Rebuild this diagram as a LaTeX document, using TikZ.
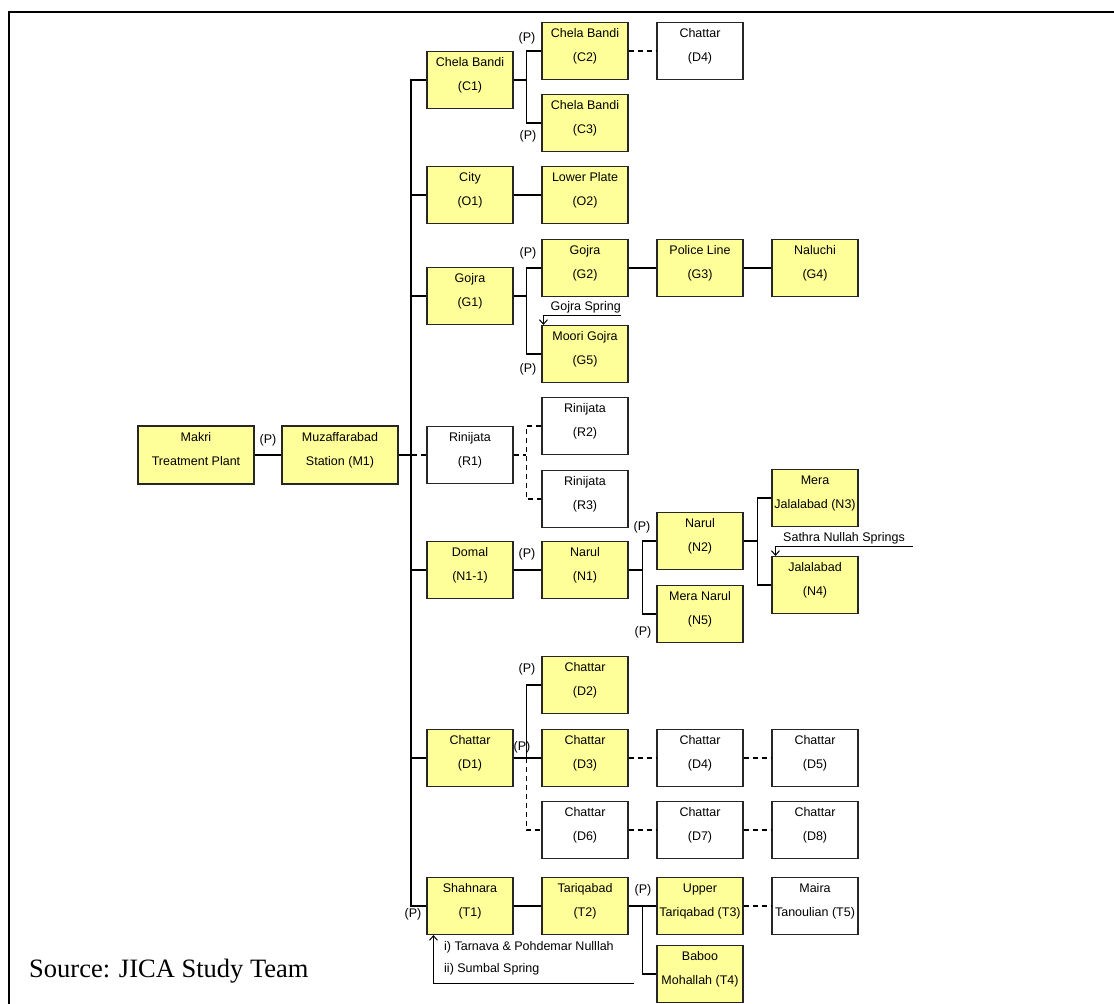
\documentclass[tikz,border=0pt]{standalone}
\usepackage{fontspec}
\setmainfont{Liberation Sans}
\newfontfamily\srcfont{Liberation Serif}
\usetikzlibrary{arrows.meta}
\definecolor{stnyellow}{RGB}{255,255,153}
\tikzset{
  stn/.style={draw=black!85, line width=1.1pt, fill=stnyellow, minimum width=86pt, minimum height=57pt,
    inner sep=2pt, align=center, font=\fontsize{12.5}{24}\selectfont, text depth=12pt},
  plan/.style={stn, fill=white},
  pipe/.style={line width=1.2pt},
  feed/.style={line width=2pt},
  planline/.style={line width=1.2pt, dash pattern=on 5pt off 4pt},
  plbl/.style={font=\fontsize{12.5}{22}\selectfont, inner sep=0pt},
}
\begin{document}
\begin{tikzpicture}[x=1pt, y=-1pt, node distance=115pt, >={Straight Barb[length=4.5pt,width=8pt]}]
      \useasboundingbox (0,0) rectangle (1114,1004);
      \draw[line width=2.5pt] (9,1004) -- (9,12) -- (1114,12);

      % source and main line
      \node[stn, minimum width=116pt, minimum height=58pt] (mk) at (196,455) {Makri\\Treatment Plant};
      \node[stn, minimum width=116pt, minimum height=58pt] (m1) at (340,455) {Muzaffarabad\\Station (M1)};

      % first column
      \node[stn] (c1) at (470,80) {Chela Bandi\\(C1)};
      \node[stn] (o1) at (470,195) {City\\(O1)};
      \node[stn] (g1) at (470,296) {Gojra\\(G1)};
      \node[plan] (r1) at (470,455) {Rinijata\\(R1)};
      \node[stn] (n11) at (470,570) {Domal\\(N1-1)};
      \node[stn] (d1) at (470,758) {Chattar\\(D1)};
      \node[stn] (t1) at (470,906) {Shahnara\\(T1)};

      % Chela Bandi
      \node[stn] (c2) at (585,51) {Chela Bandi\\(C2)};
      \node[stn] (c3) at (585,123) {Chela Bandi\\(C3)};
      \node[plan] (cd4) [right of = c2] {Chattar\\(D4)};
      % City
      \node[stn] (o2) [right of = o1] {Lower Plate\\(O2)};
      % Gojra
      \node[stn] (g2) at (585,268) {Gojra\\(G2)};
      \node[stn] (g3) [right of = g2] {Police Line\\(G3)};
      \node[stn] (g4) [right of = g3] {Naluchi\\(G4)};
      \node[stn] (g5) at (585,354) {Moori Gojra\\(G5)};
      % Rinijata
      \node[plan] (r2) at (585,426) {Rinijata\\(R2)};
      \node[plan] (r3) at (585,499) {Rinijata\\(R3)};
      % Domal / Narul
      \node[stn] (n1) [right of = n11] {Narul\\(N1)};
      \node[stn] (n2) at (700,541) {Narul\\(N2)};
      \node[stn] (n5) at (700,614) {Mera Narul\\(N5)};
      \node[stn] (n3) at (815,498) {Mera\\Jalalabad (N3)};
      \node[stn] (n4) at (815,585) {Jalalabad\\(N4)};
      % Chattar
      \node[stn] (d2) at (585,685) {Chattar\\(D2)};
      \node[stn] (d3) [right of = d1] {Chattar\\(D3)};
      \node[plan] (d4) [right of = d3] {Chattar\\(D4)};
      \node[plan] (d5) [right of = d4] {Chattar\\(D5)};
      \node[plan] (d6) at (585,830) {Chattar\\(D6)};
      \node[plan] (d7) [right of = d6] {Chattar\\(D7)};
      \node[plan] (d8) [right of = d7] {Chattar\\(D8)};
      % Shahnara / Tariqabad
      \node[stn] (t2) [right of = t1] {Tariqabad\\(T2)};
      \node[stn] (t3) [right of = t2] {Upper\\Tariqabad (T3)};
      \node[plan] (t5) [right of = t3] {Maira\\Tanoulian (T5)};
      \node[stn] (t4) at (700,974) {Baboo\\Mohallah (T4)};

      % trunk
      \draw[pipe] (mk) -- (m1);
      \draw[feed] (m1.east) -- ([xshift=-15pt]m1 -| c1.west);
      \draw[feed] (c1.west) -- ++(-15,0) |- (t1.west);
      \draw[pipe] (o1.west) -- ++(-15,0);
      \draw[pipe] (g1.west) -- ++(-15,0);
      \draw[planline] (r1.west) -- ++(-15,0);
      \draw[pipe] (n11.west) -- ++(-15,0);
      \draw[pipe] (d1.west) -- ++(-15,0);

      % branches
      \draw[feed] (c1.east) -- ([xshift=-15pt]c1 -| c2.west);
      \draw[pipe] (c2.west) -- ++(-15,0) |- (c3.west);
      \draw[planline] (c2) -- (cd4);
      \draw[pipe] (o1) -- (o2);
      \draw[feed] (g1.east) -- ([xshift=-15pt]g1 -| g2.west);
      \draw[pipe] (g2.west) -- ++(-15,0) |- (g5.west);
      \draw[pipe] (g2) -- (g3);
      \draw[pipe] (g3) -- (g4);
      \draw[planline] (r1.east) -- ([xshift=-15pt]r1 -| r2.west);
      \draw[planline] (r2.west) -- ++(-15,0) |- (r3.west);
      \draw[pipe] (n11) -- (n1);
      \draw[feed] (n1.east) -- ([xshift=-14pt]n1 -| n2.west);
      \draw[pipe] (n2.west) -- ++(-14,0) |- (n5.west);
      \draw[feed] (n2.east) -- ([xshift=-14pt]n2 -| n3.west);
      \draw[pipe] (n3.west) -- ++(-14,0) |- (n4.west);
      \draw[pipe] (d1) -- (d3);
      \draw[pipe] (d2.west) -- ++(-15,0) |- (d3.west);
      \draw[planline] (d3.west) ++(-15,0) |- (d6.west);
      \draw[planline] (d3) -- (d4);
      \draw[planline] (d4) -- (d5);
      \draw[planline] (d6) -- (d7);
      \draw[planline] (d7) -- (d8);
      \draw[pipe] (t1) -- (t2);
      \draw[pipe] (t2) -- (t3);
      \draw[pipe] ([xshift=-14pt]t3.west) |- (t4.west);
      \draw[planline] (t3) -- (t5);

      % springs
      \coordinate (gsp) at (621,315);
      \node[plbl, anchor=south east] (gsptxt) at ([yshift=2pt]gsp) {Gojra Spring};
      \draw[line width=1pt, ->] (gsp) -| ([xshift=2pt]g5.north west);
      \coordinate (ssp) at (913,546);
      \node[plbl, anchor=south east] (ssptxt) at ([xshift=-8pt, yshift=2pt]ssp) {Sathra Nullah Springs};
      \draw[line width=1pt, ->] (ssp) -| ([xshift=4pt]n4.north west);
      \coordinate (tsp) at (634,983);
      \node[plbl, align=left, anchor=west] (tsptxt) at (444,958) {i) Tarnava \& Pohdemar Nulllah\\ii) Sumbal Spring};
      \draw[line width=1pt, ->] (tsp) -| ([xshift=7pt]t1.south west);

      % pumping marks
      \foreach \pos [count=\i] in {(268,440), (527,38), (528,136), (528,253), (528,369), (527,554),
          (642,527), (643,632), (527,669), (522,747), (413,914), (643,890)}
        \node[plbl] (p\i) at \pos {(P)};

      \node[font=\srcfont\fontsize{26.5}{30}\selectfont, anchor=base west, inner sep=0pt] (src) at (29,977) {Source: JICA Study Team};
    \end{tikzpicture}
\end{document}
